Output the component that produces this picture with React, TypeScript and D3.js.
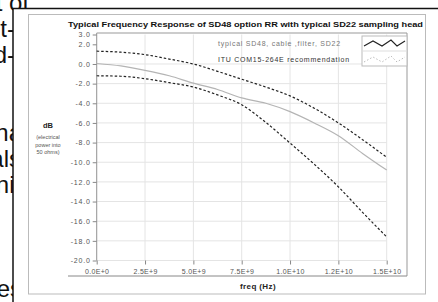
import React, { useRef, useEffect } from "react";
import * as d3 from "d3";

// frequency samples (Hz)
const freqs = [
  0, 1.25e9, 2.5e9, 3.75e9, 5e9, 6.25e9, 7.5e9, 8.75e9, 1e10, 1.125e10,
  1.25e10, 1.375e10, 1.5e10,
];
// ITU upper mask (dB)
const upperMask = [
  1.3, 1.2, 0.95, 0.5, 0.0, -0.75, -1.55, -2.35, -3.25, -4.5, -6.0, -7.7, -9.5,
];
// typical SD48 + cable + filter + SD22 (dB)
const typicalResp = [
  0.05, -0.2, -0.65, -1.2, -1.95, -2.6, -3.45, -4.0, -4.85, -6.0, -7.3, -9.1,
  -10.8,
];
// ITU lower mask (dB)
const lowerMask = [
  -1.2, -1.25, -1.5, -1.9, -2.35, -3.15, -4.15, -5.95, -8.05, -10.2, -12.5,
  -15.1, -17.6,
];

const xTicks = [0, 2.5e9, 5e9, 7.5e9, 1e10, 1.25e10, 1.5e10];
const xTickLabels = [
  "0.0E+0",
  "2.5E+9",
  "5.0E+9",
  "7.5E+9",
  "1.0E+10",
  "1.2E+10",
  "1.5E+10",
];
const yTicks = [3, 2, 0, -2, -4, -6, -8, -10, -12, -14, -16, -18, -20];
const legendLabels = [
  "typical SD48, cable ,filter, SD22",
  "ITU COM15-264E recommendation",
];

// ends of page text lines that show left of the picture
const pageText = [
  { t: "t of", x: 29, y: 11 },
  { t: "t-", x: 15, y: 37 },
  { t: "d-", x: 15, y: 63 },
  { t: "na", x: 22, y: 141 },
  { t: "als", x: 21, y: 167 },
  { t: "ni", x: 14.5, y: 193 },
  { t: "es", x: 22, y: 297 },
];

const App = () => {
  const chartRef = useRef<HTMLDivElement>(null);

  useEffect(() => {
    const W = 438;
    const H = 302;
    const font = "Arial, 'Liberation Sans', sans-serif";

    const svg = d3
      .select(chartRef.current)
      .append("svg")
      .attr("width", W)
      .attr("height", H)
      .style("display", "block")
      .style("background", "#fff");

    // page text behind the image
    svg
      .selectAll(".page-text")
      .data(pageText)
      .enter()
      .append("text")
      .attr("x", (d) => d.x)
      .attr("y", (d) => d.y)
      .attr("text-anchor", "end")
      .style("font-family", font)
      .style("font-size", "24px")
      .attr("fill", "#111")
      .text((d) => d.t);

    // image frame
    svg.append("rect").attr("x", 13).attr("y", 8).attr("width", W).attr("height", H).attr("fill", "#fff");
    svg.append("line").attr("x1", 12).attr("x2", W).attr("y1", 8.5).attr("y2", 8.5).attr("stroke", "#111").attr("stroke-width", 1.5);
    svg.append("line").attr("x1", 13).attr("x2", 13).attr("y1", 8).attr("y2", H).attr("stroke", "#111").attr("stroke-width", 1.5);
    svg
      .append("rect")
      .attr("x", 28.5)
      .attr("y", 14.5)
      .attr("width", 397)
      .attr("height", 279.5)
      .attr("fill", "#fff")
      .attr("stroke", "#bbb");

    const x = d3.scaleLinear().domain([0, 1.5e10]).range([96.7, 386.7]);
    const y = d3.scaleLinear().domain([-20, 3]).range([260.5, 34.5]);

    // grid
    svg
      .selectAll(".vgrid")
      .data(xTicks)
      .enter()
      .append("line")
      .attr("x1", (d) => x(d))
      .attr("x2", (d) => x(d))
      .attr("y1", y(3))
      .attr("y2", y(-20))
      .attr("stroke", "#e4e4e4");
    svg
      .selectAll(".hgrid")
      .data(yTicks.filter((d) => d <= 0))
      .enter()
      .append("line")
      .attr("x1", x(0))
      .attr("x2", x(1.5e10))
      .attr("y1", (d) => y(d))
      .attr("y2", (d) => y(d))
      .attr("stroke", "#e4e4e4");

    // frame around plot
    svg.append("line").attr("x1", x(0)).attr("x2", 407).attr("y1", 33).attr("y2", 33).attr("stroke", "#999");
    svg.append("line").attr("x1", 407).attr("x2", 407).attr("y1", 33).attr("y2", 276).attr("stroke", "#999");
    svg.append("line").attr("x1", 68).attr("x2", 407).attr("y1", 276).attr("y2", 276).attr("stroke", "#888");

    // y axis
    const yAxis = svg
      .append("g")
      .attr("transform", `translate(${x(0)},0)`)
      .call(
        d3
          .axisLeft(y)
          .tickValues(yTicks)
          .tickSize(4)
          .tickPadding(2)
          .tickFormat((d) => (d as number).toFixed(1))
      );
    yAxis.select(".domain").attr("stroke", "#999").attr("d", `M0,33V${y(-20)}`);
    yAxis.selectAll(".tick line").attr("stroke", "#888");
    yAxis
      .selectAll(".tick text")
      .attr("fill", "#555")
      .style("font-family", font)
      .style("font-size", "7px")
      .style("letter-spacing", "0.8px");

    // x axis (ticks only)
    const xAxis = svg
      .append("g")
      .attr("transform", `translate(0,${y(-20)})`)
      .call(
        d3
          .axisBottom(x)
          .tickValues(xTicks)
          .tickSize(4)
          .tickPadding(5)
          .tickFormat((d, i) => xTickLabels[i])
      );
    xAxis.select(".domain").remove();
    xAxis.selectAll(".tick line").attr("stroke", "#888");
    xAxis
      .selectAll(".tick text")
      .attr("fill", "#555")
      .style("font-family", font)
      .style("font-size", "7px")
      .style("letter-spacing", "0.3px");

    // series
    const line = (vals: number[]) =>
      d3
        .line<number>()
        .x((d, i) => x(freqs[i]))
        .y((d) => y(d))
        .curve(d3.curveMonotoneX)(vals);

    svg
      .append("path")
      .attr("d", line(typicalResp))
      .attr("fill", "none")
      .attr("stroke", "#b4b4b4")
      .attr("stroke-width", 1.2);

    [upperMask, lowerMask].forEach((vals) => {
      svg
        .append("path")
        .attr("d", line(vals))
        .attr("fill", "none")
        .attr("stroke", "#222")
        .attr("stroke-width", 1.2)
        .attr("stroke-dasharray", "2.5,2");
    });

    // legend
    const lg = svg.append("g");
    lg.append("rect")
      .attr("x", 362)
      .attr("y", 36)
      .attr("width", 45)
      .attr("height", 30)
      .attr("fill", "#fff")
      .attr("stroke", "#bbb");
    lg.append("line").attr("x1", 362).attr("x2", 407).attr("y1", 51).attr("y2", 51).attr("stroke", "#ddd");
    const zig = (top: number) =>
      d3.line()([
        [364, top + 10],
        [373, top + 5],
        [382, top + 10],
        [391, top + 4],
        [397, top + 10],
        [405, top + 5],
      ]);
    lg.append("path").attr("d", zig(36)).attr("fill", "none").attr("stroke", "#222").attr("stroke-width", 1.1);
    lg.append("path")
      .attr("d", zig(52))
      .attr("fill", "none")
      .attr("stroke", "#bbb")
      .attr("stroke-width", 1)
      .attr("stroke-dasharray", "1.5,2");
    lg.selectAll(".legend-text")
      .data(legendLabels)
      .enter()
      .append("text")
      .attr("x", 218)
      .attr("y", (d, i) => 46 + i * 15.5)
      .attr("fill", (d, i) => (i === 0 ? "#777" : "#333"))
      .style("font-family", font)
      .style("font-size", "7px")
      .style("letter-spacing", "0.75px")
      .text((d) => d);

    // titles
    svg
      .append("text")
      .attr("x", 245.5)
      .attr("y", 27)
      .attr("text-anchor", "middle")
      .attr("textLength", 355)
      .attr("lengthAdjust", "spacingAndGlyphs")
      .style("font-family", font)
      .style("font-size", "8px")
      .style("font-weight", "bold")
      .attr("fill", "#111")
      .text("Typical Frequency Response of SD48 option RR with typical SD22 sampling head");

    svg
      .append("text")
      .attr("x", 258)
      .attr("y", 288.5)
      .attr("text-anchor", "middle")
      .style("font-family", font)
      .style("font-size", "8px")
      .style("font-weight", "bold")
      .style("letter-spacing", "0.4px")
      .attr("fill", "#222")
      .text("freq (Hz)");

    svg
      .append("text")
      .attr("x", 48)
      .attr("y", 128)
      .attr("text-anchor", "middle")
      .style("font-family", font)
      .style("font-size", "7.5px")
      .style("font-weight", "bold")
      .attr("fill", "#222")
      .text("dB");

    svg
      .selectAll(".ylabel-sub")
      .data(["(electrical", "power into", "50 ohms)"])
      .enter()
      .append("text")
      .attr("x", 48)
      .attr("y", (d, i) => 139 + i * 7.5)
      .attr("text-anchor", "middle")
      .style("font-family", font)
      .style("font-size", "5.5px")
      .attr("fill", "#555")
      .text((d) => d);

    return () => {
      if (chartRef.current) chartRef.current.innerHTML = "";
    };
  }, []);

  return (
    <div
      ref={chartRef}
      style={{ position: "fixed", left: 0, top: 0, width: 438, height: 302 }}
    ></div>
  );
};

export default App;
